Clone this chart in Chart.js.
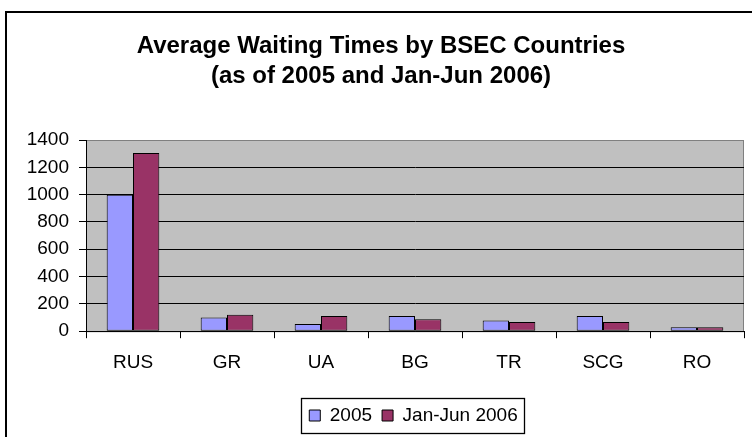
<!DOCTYPE html>
<html>
<head>
<meta charset="utf-8">
<script src="https://cdn.jsdelivr.net/npm/chart.js@4/dist/chart.umd.min.js"></script>
<style>
html,body{margin:0;padding:0;background:#fff;}
canvas{display:block;}
</style>
</head>
<body>
<canvas id="c" width="752" height="437"></canvas>
<script>
const titleLines = ["Average Waiting Times by BSEC Countries", "(as of 2005 and Jan-Jun 2006)"];
const categories = ["RUS", "GR", "UA", "BG", "TR", "SCG", "RO"];
const seriesNames = ["2005", "Jan-Jun 2006"];
const values2005 = [1000, 100, 53, 112, 78, 112, 29];
const values2006 = [1305, 121, 112, 87, 68, 68, 29];
const yTicks = [0, 200, 400, 600, 800, 1000, 1200, 1400];

const FONT = 'Arial, "Liberation Sans", sans-serif';

const framePlugin = {
  id: 'frame',
  afterLayout(chart) {
    const lg = chart.legend;
    if (lg) { const dx = 41.5; lg.left += dx; lg.right += dx; }
    const t = chart.titleBlock;
    if (t) { const dx = 9; t.left += dx; t.right += dx; }
  },
  beforeDraw(chart) {
    const ctx = chart.ctx, a = chart.chartArea;
    ctx.save();
    ctx.fillStyle = '#fff';
    ctx.fillRect(0, 0, chart.width, chart.height);
    ctx.strokeStyle = '#000';
    ctx.lineWidth = 2;
    ctx.strokeRect(6, 12, 900, 600);
    ctx.fillStyle = '#C0C0C0';
    ctx.fillRect(a.left, a.top, a.right - a.left, a.bottom - a.top);
    ctx.strokeStyle = '#808080';
    ctx.lineWidth = 1;
    ctx.strokeRect(a.left + 0.5, a.top + 0.5, a.right - a.left - 1, a.bottom - a.top);
    ctx.restore();
  },
  afterDraw(chart) {
    const lg = chart.legend;
    if (!lg || !lg.legendHitBoxes || !lg.legendHitBoxes.length) return;
    let l = Infinity, r = -Infinity, t = Infinity, b = -Infinity;
    lg.legendHitBoxes.forEach(h => {
      l = Math.min(l, h.left); r = Math.max(r, h.left + h.width);
      t = Math.min(t, h.top); b = Math.max(b, h.top + h.height);
    });
    const ctx = chart.ctx;
    ctx.save();
    ctx.strokeStyle = '#000';
    ctx.lineWidth = 1.3;
    const cy = (t + b) / 2;
    ctx.strokeRect(Math.round(l - 8) + 0.5, Math.round(cy - 18) + 0.5, Math.round(r - l + 15), 35);
    ctx.restore();
  }
};

new Chart(document.getElementById('c'), {
  type: 'bar',
  data: {
    labels: categories,
    datasets: [
      { label: seriesNames[0], data: values2005, backgroundColor: '#9999FF', borderColor: '#000', borderWidth: 1, borderSkipped: false },
      { label: seriesNames[1], data: values2006, backgroundColor: '#993366', borderColor: '#000', borderWidth: 1, borderSkipped: false }
    ]
  },
  options: {
    responsive: false,
    devicePixelRatio: 1,
    animation: false,
    layout: { padding: { left: 0, right: 8, top: 0, bottom: 2 } },
    datasets: { bar: { categoryPercentage: 0.56, barPercentage: 1.0 } },
    plugins: {
      title: {
        display: true,
        text: titleLines,
        color: '#000',
        font: { family: FONT, size: 24, weight: 'bold', lineHeight: 1.25 },
        padding: { top: 31, bottom: 49 }
      },
      legend: {
        display: true,
        position: 'bottom',
        labels: {
          color: '#000',
          font: { family: FONT, size: 19 },
          boxWidth: 11,
          boxHeight: 11,
          padding: 10
        }
      },
      tooltip: { enabled: false }
    },
    scales: {
      x: {
        afterFit(axis) { axis.height += 9; },
        grid: { display: true, drawOnChartArea: false, drawTicks: true, tickLength: 7, color: '#000', tickColor: '#000', offset: true },
        border: { display: true, color: '#000', width: 1 },
        ticks: { color: '#000', font: { family: FONT, size: 19 }, padding: 13, maxRotation: 0, autoSkip: false }
      },
      y: {
        min: 0,
        max: 1400,
        afterBuildTicks(axis) { axis.ticks = yTicks.map(v => ({ value: v })); },
        afterFit(axis) { axis.width = 86; },
        grid: {
          color: c => (c.tick && c.tick.value === 1400) ? '#808080' : '#000',
          tickColor: '#000',
          lineWidth: 1,
          tickLength: 7
        },
        border: { display: true, color: '#000', width: 1 },
        ticks: { color: '#000', font: { family: FONT, size: 19 }, padding: 10, callback: v => String(v) }
      }
    }
  },
  plugins: [framePlugin]
});
</script>
</body>
</html>
